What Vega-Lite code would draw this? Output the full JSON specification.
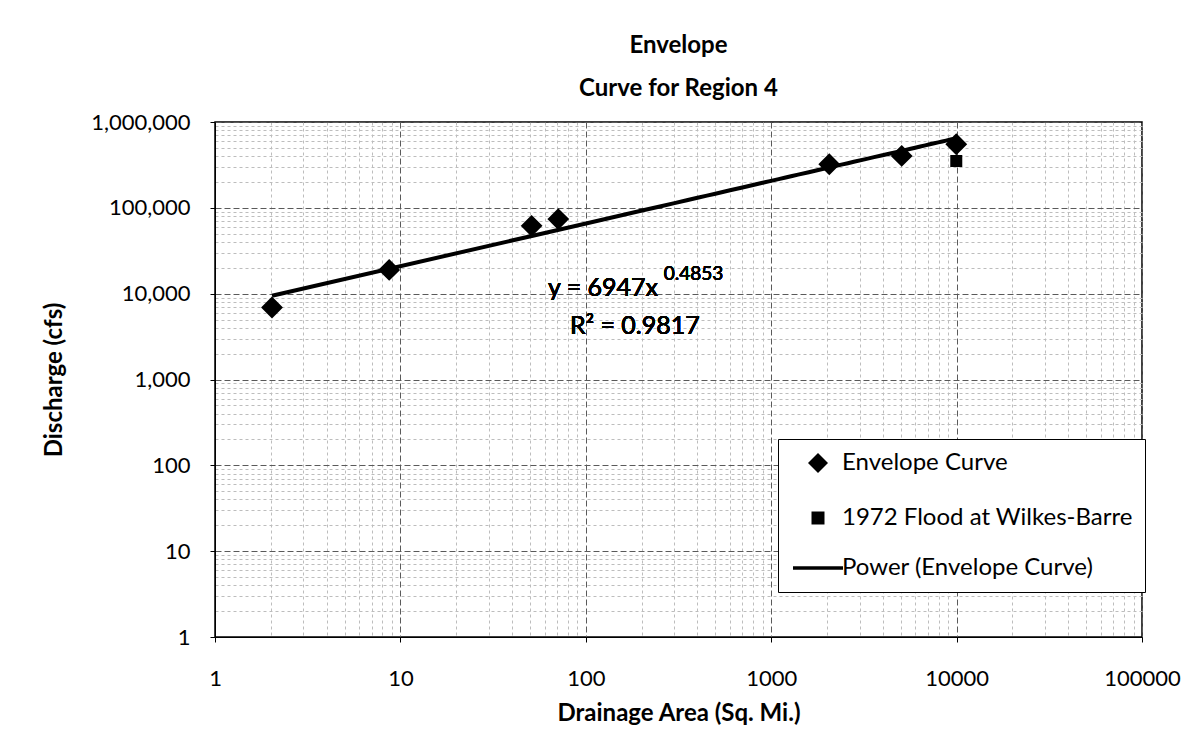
{
  "$schema": "https://vega.github.io/schema/vega-lite/v6.json",
  "width": 927,
  "height": 515,
  "autosize": {"type": "none"},
  "padding": {"left": 215, "top": 122, "right": 40, "bottom": 98},
  "background": "white",
  "config": {
    "font": "Lato",
    "view": {"stroke": "black", "strokeWidth": 1.5}
  },
  "title": {
    "text": ["Envelope", "Curve for Region 4"],
    "font": "Lato",
    "fontSize": 24,
    "fontWeight": "bold",
    "color": "black",
    "lineHeight": 43,
    "anchor": "middle",
    "offset": 10
  },
  "data": {
    "values": [
      {"area": 2.03, "discharge": 6900, "series": "Envelope Curve"},
      {"area": 8.7, "discharge": 18900, "series": "Envelope Curve"},
      {"area": 51, "discharge": 61700, "series": "Envelope Curve"},
      {"area": 71, "discharge": 73900, "series": "Envelope Curve"},
      {"area": 2057, "discharge": 322000, "series": "Envelope Curve"},
      {"area": 5057, "discharge": 402500, "series": "Envelope Curve"},
      {"area": 9960, "discharge": 550000, "series": "Envelope Curve"},
      {"area": 9960, "discharge": 352000, "series": "1972 Flood at Wilkes-Barre"}
    ]
  },
  "encoding": {
    "x": {
      "field": "area",
      "type": "quantitative",
      "scale": {"type": "log", "domain": [1, 100000], "nice": false},
      "axis": {
        "title": "Drainage Area (Sq. Mi.)",
        "titleFont": "Lato",
        "titleFontSize": 24,
        "titleFontWeight": "bold",
        "titleColor": "black",
        "titlePadding": 12,
        "values": [1,2,3,4,5,6,7,8,9,10,20,30,40,50,60,70,80,90,100,200,300,400,500,600,700,800,900,1000,2000,3000,4000,5000,6000,7000,8000,9000,10000,20000,30000,40000,50000,60000,70000,80000,90000,100000],
        "format": "d",
        "labelExpr": "abs(log(datum.value)/LN10 - round(log(datum.value)/LN10)) < 0.001 ? datum.label : ''",
        "labelOverlap": false,
        "labelBound": false,
        "labelFlush": false,
        "labelFont": "Lato",
        "labelFontSize": 22,
        "labelColor": "black",
        "labelPadding": 26,
        "domainColor": "black",
        "tickSize": 5,
        "tickColor": {"condition": {"test": "abs(log(datum.value)/LN10 - round(log(datum.value)/LN10)) < 0.001", "value": "black"}, "value": "transparent"},
        "grid": true,
        "gridColor": {"condition": {"test": "abs(log(datum.value)/LN10 - round(log(datum.value)/LN10)) < 0.001", "value": "#5a5a5a"}, "value": "#bdbdbd"},
        "gridDash": {"condition": {"test": "abs(log(datum.value)/LN10 - round(log(datum.value)/LN10)) < 0.001", "value": [6, 3]}, "value": [3, 3]},
        "gridOpacity": 1
      }
    },
    "y": {
      "field": "discharge",
      "type": "quantitative",
      "scale": {"type": "log", "domain": [1, 1000000], "nice": false},
      "axis": {
        "title": "Discharge (cfs)",
        "titleFont": "Lato",
        "titleFontSize": 24,
        "titleFontWeight": "bold",
        "titleColor": "black",
        "titlePadding": 24,
        "values": [1,2,3,4,5,6,7,8,9,10,20,30,40,50,60,70,80,90,100,200,300,400,500,600,700,800,900,1000,2000,3000,4000,5000,6000,7000,8000,9000,10000,20000,30000,40000,50000,60000,70000,80000,90000,100000,200000,300000,400000,500000,600000,700000,800000,900000,1000000],
        "format": ",d",
        "labelExpr": "abs(log(datum.value)/LN10 - round(log(datum.value)/LN10)) < 0.001 ? datum.label : ''",
        "labelOverlap": false,
        "labelBound": false,
        "labelFlush": false,
        "labelFont": "Lato",
        "labelFontSize": 22,
        "labelColor": "black",
        "labelPadding": 20,
        "domainColor": "black",
        "tickSize": 5,
        "tickColor": {"condition": {"test": "abs(log(datum.value)/LN10 - round(log(datum.value)/LN10)) < 0.001", "value": "black"}, "value": "transparent"},
        "grid": true,
        "gridColor": {"condition": {"test": "abs(log(datum.value)/LN10 - round(log(datum.value)/LN10)) < 0.001", "value": "#5a5a5a"}, "value": "#bdbdbd"},
        "gridDash": {"condition": {"test": "abs(log(datum.value)/LN10 - round(log(datum.value)/LN10)) < 0.001", "value": [6, 3]}, "value": [3, 3]},
        "gridOpacity": 1
      }
    }
  },
  "layer": [
    {
      "transform": [
        {"filter": "datum.series === 'Envelope Curve'"},
        {"regression": "discharge", "on": "area", "method": "pow"}
      ],
      "mark": {"type": "line", "color": "black", "strokeWidth": 4}
    },
    {
      "mark": {"type": "point", "filled": false, "fill": "black", "stroke": "black", "opacity": 1, "fillOpacity": 1, "strokeOpacity": 1},
      "encoding": {
        "size": {
          "field": "series",
          "type": "nominal",
          "scale": {"domain": ["Envelope Curve", "1972 Flood at Wilkes-Barre"], "range": [361, 237]},
          "legend": null
        },
        "shape": {
          "field": "series",
          "type": "nominal",
          "scale": {
            "domain": ["Envelope Curve", "1972 Flood at Wilkes-Barre", "Power (Envelope Curve)"],
            "range": ["diamond", "M-0.65,-0.65H0.65V0.65H-0.65Z", "M-2.5,-0.17H2.5V0.17H-2.5Z"]
          },
          "legend": {
            "title": null,
            "orient": "none",
            "legendX": 563,
            "legendY": 317,
            "direction": "vertical",
            "fillColor": "white",
            "strokeColor": "black",
            "padding": 12,
            "rowPadding": 24,
            "symbolSize": 400,
            "symbolStrokeWidth": 3.5,
            "symbolFillColor": "black",
            "symbolStrokeColor": "black",
            "symbolOpacity": 1,
            "symbolOffset": 16,
            "labelFont": "Lato",
            "labelFontSize": 24,
            "labelColor": "black",
            "labelOffset": 12,
            "labelLimit": 400
          }
        }
      }
    },
    {
      "mark": {"type": "text", "align": "left", "baseline": "alphabetic", "font": "Lato", "fontSize": 25, "color": "black", "text": "y = 6947x"},
      "encoding": {"x": {"datum": 62.5}, "y": {"datum": 9480}}
    },
    {
      "mark": {"type": "text", "align": "left", "baseline": "alphabetic", "font": "Lato", "fontSize": 19, "color": "black", "text": "0.4853"},
      "encoding": {"x": {"datum": 263}, "y": {"datum": 14550}}
    },
    {
      "mark": {"type": "text", "align": "left", "baseline": "alphabetic", "font": "Lato", "fontSize": 25, "color": "black", "text": "R² = 0.9817"},
      "encoding": {"x": {"datum": 82.2}, "y": {"datum": 3428}}
    }
  ]
}
